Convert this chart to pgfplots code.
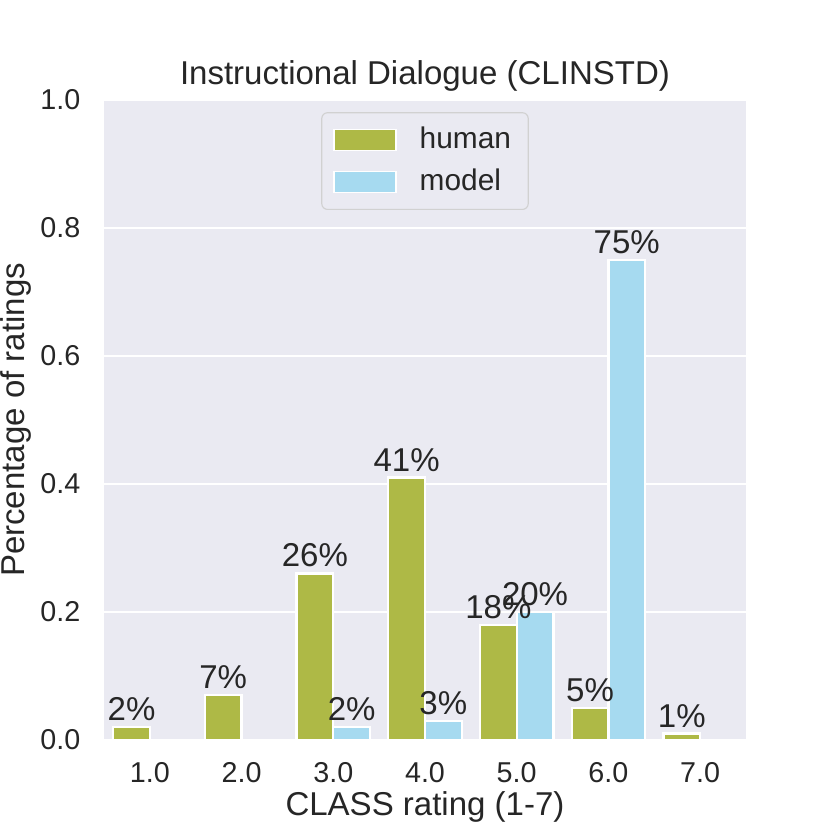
\documentclass[border=0pt]{standalone}
\usepackage{fontspec}
\setmainfont{Liberation Sans}
\usepackage{pgfplots}
\pgfplotsset{compat=1.18}
\definecolor{bg}{HTML}{EAEAF2}
\definecolor{txt}{HTML}{262626}
\definecolor{human}{RGB}{174,185,70}
\definecolor{model}{RGB}{166,218,240}
\begin{document}
\fontsize{10}{12}\selectfont
\begin{tikzpicture}
\begin{axis}[
  at={(36.22pt,31.35pt)}, anchor=south west,
  width=223.6pt, height=222.9pt, scale only axis,
  xmin=0.5, xmax=7.5, ymin=0, ymax=1,
  axis background/.style={fill=bg},
  axis line style={draw=none},
  major tick length=0pt, tick style={draw=none},
  ymajorgrids, grid style={white, line width=0.7pt},
  ytick={0,0.2,0.4,0.6,0.8,1.0},
  xtick={1,2,3,4,5,6,7},
  xticklabels={1.0,2.0,3.0,4.0,5.0,6.0,7.0},
  /pgf/number format/assume math mode=true,
  y tick label style={/pgf/number format/fixed, /pgf/number format/fixed zerofill, /pgf/number format/precision=1, xshift=-4.7pt},
  every tick label/.append style={text=txt, font=\fontsize{10}{12}\selectfont},
  x tick label style={yshift=-4.4pt},
  every axis title shift=0pt,
  title={Instructional Dialogue (CLINSTD)},
  title style={at={(rel axis cs:0.5,1.037)}, anchor=center, text=txt, font=\fontsize{11.5}{13.8}\selectfont},
  xlabel={CLASS rating (1-7)},
  xlabel style={at={(rel axis cs:0.5,-0.104)}, anchor=center, text=txt, font=\fontsize{11.5}{13.8}\selectfont},
  ylabel={Percentage of ratings},
  ylabel style={at={(rel axis cs:-0.137,0.5)}, anchor=center, text=txt, font=\fontsize{11.5}{13.8}\selectfont},
  ybar=0pt, bar width=0.4,
  point meta={y*100},
  nodes near coords={\pgfmathprintnumber[fixed,precision=0]{\pgfplotspointmeta}\%},
  every node near coord/.append style={text=txt, font=\fontsize{11.5}{13.8}\selectfont, anchor=south, inner sep=0.5pt, yshift=1.3pt},
  legend style={at={(rel axis cs:0.5,0.981)}, anchor=north, draw=black!18, fill=bg, rounded corners=2pt,
    inner xsep=4pt, inner ysep=3pt, row sep=1.6pt, text=txt, font=\fontsize{10.4}{12.5}\selectfont},
  legend cell align=left,
  /tikz/every odd column/.append style={column sep=5.9pt},
  legend image code/.code={\draw[#1, draw=white, line width=0.6pt, sharp corners] (0pt,-3.65pt) rectangle (21.6pt,3.65pt);},
]
\addplot[fill=human, draw=white, line width=0.8pt] coordinates {(1,0.02) (2,0.07) (3,0.26) (4,0.41) (5,0.18) (6,0.05) (7,0.01)};
\addlegendentry{human}
\addplot[fill=model, draw=white, line width=0.8pt] coordinates {(3,0.02) (4,0.03) (5,0.20) (6,0.75)};
\addlegendentry{model}
\end{axis}
\pgfresetboundingbox
\path[use as bounding box] (0,0) rectangle (289.08pt,289.08pt);
\end{tikzpicture}
\end{document}
